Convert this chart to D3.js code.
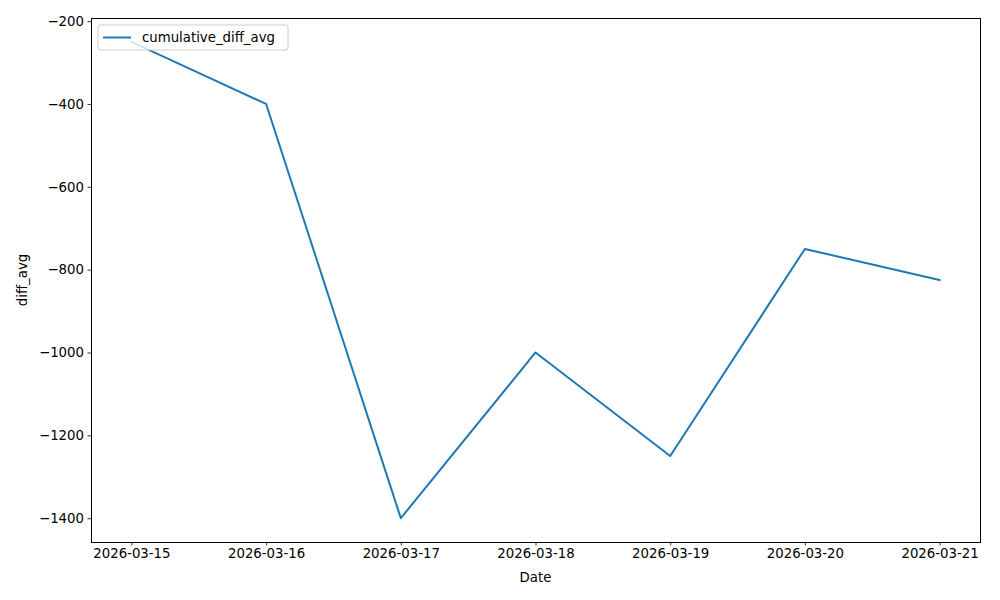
<!DOCTYPE html>
<html>
<head>
<meta charset="utf-8">
<script src="https://cdn.jsdelivr.net/npm/d3@7"></script>
<style>
  body { margin: 0; background: #fff; }
  text { font-family: "DejaVu Sans", sans-serif; }
</style>
</head>
<body>
<div id="chart"></div>
<script>
// values
const dates = ['2026-03-15', '2026-03-16', '2026-03-17', '2026-03-18', '2026-03-19', '2026-03-20', '2026-03-21']
const diffAvg = [-250, -400, -1400, -1000, -1250, -750, -825]
const yTicks = [-1400, -1200, -1000, -800, -600, -400, -200]
const seriesName = 'cumulative_diff_avg'

const width = 1000
const height = 600
const margin = { top: 18, right: 20, bottom: 58, left: 91 }
const color = '#1f77b4'

const parse = d3.timeParse('%Y-%m-%d')
const data = dates.map((d, i) => ({ date: parse(d), value: diffAvg[i] }))

const svg = d3.select('#chart').append('svg')
    .attr('width', width)
    .attr('height', height)

// matplotlib style 5% padding on both axes
const xExt = d3.extent(data, d => d.date)
const xPad = (xExt[1] - xExt[0]) * 0.05
const yExt = d3.extent(data, d => d.value)
const yPad = (yExt[1] - yExt[0]) * 0.05

const x = d3.scaleTime()
    .domain([new Date(+xExt[0] - xPad), new Date(+xExt[1] + xPad)])
    .range([margin.left, width - margin.right])

const y = d3.scaleLinear()
    .domain([yExt[0] - yPad, yExt[1] + yPad])
    .range([height - margin.bottom, margin.top])

const fmtMinus = v => (v < 0 ? '\u2212' : '') + Math.abs(v)

svg.append('g')
    .attr('transform', 'translate(0,' + (height - margin.bottom) + ')')
    .call(d3.axisBottom(x)
        .tickValues(data.map(d => d.date))
        .tickFormat(d3.timeFormat('%Y-%m-%d'))
        .tickSizeOuter(0)
        .tickSize(3.5)
        .tickPadding(3.5))

svg.append('g')
    .attr('transform', 'translate(' + margin.left + ',0)')
    .call(d3.axisLeft(y)
        .tickValues(yTicks)
        .tickFormat(fmtMinus)
        .tickSizeOuter(0)
        .tickSize(3.5)
        .tickPadding(3.5))

svg.selectAll('.domain').remove()
svg.selectAll('.tick line').attr('stroke', '#000').attr('stroke-width', 0.8)
svg.selectAll('.tick text')
    .attr('fill', '#000')
    .style('font-size', '13.3px')
    .style('font-family', '"DejaVu Sans", sans-serif')

// the line
const line = d3.line()
    .x(d => x(d.date))
    .y(d => y(d.value))

svg.append('path')
    .datum(data)
    .attr('fill', 'none')
    .attr('stroke', color)
    .attr('stroke-width', 2)
    .attr('stroke-linejoin', 'round')
    .attr('stroke-linecap', 'square')
    .attr('d', line)

// frame
svg.append('rect')
    .attr('x', margin.left)
    .attr('y', margin.top)
    .attr('width', width - margin.left - margin.right)
    .attr('height', height - margin.top - margin.bottom)
    .attr('fill', 'none')
    .attr('stroke', '#000')
    .attr('stroke-width', 1)
    .attr('shape-rendering', 'crispEdges')

// axis labels
svg.append('text')
    .text('Date')
    .attr('x', (margin.left + width - margin.right) / 2)
    .attr('y', 582)
    .attr('text-anchor', 'middle')
    .style('font-size', '13.3px')

svg.append('text')
    .text('diff_avg')
    .attr('transform', 'translate(27,' + ((margin.top + height - margin.bottom) / 2) + ') rotate(-90)')
    .attr('text-anchor', 'middle')
    .style('font-size', '13.3px')

// legend
const legend = svg.append('g')
    .attr('transform', 'translate(98,25)')

legend.append('rect')
    .attr('width', 190)
    .attr('height', 25)
    .attr('rx', 2.5)
    .attr('fill', '#fff')
    .attr('fill-opacity', 0.8)
    .attr('stroke', '#ccc')
    .attr('stroke-width', 1)

legend.append('line')
    .attr('x1', 5)
    .attr('x2', 33)
    .attr('y1', 12.5)
    .attr('y2', 12.5)
    .attr('stroke', color)
    .attr('stroke-width', 2)

legend.append('text')
    .text(seriesName)
    .attr('x', 44)
    .attr('y', 17)
    .style('font-size', '13.3px')
</script>
</body>
</html>
